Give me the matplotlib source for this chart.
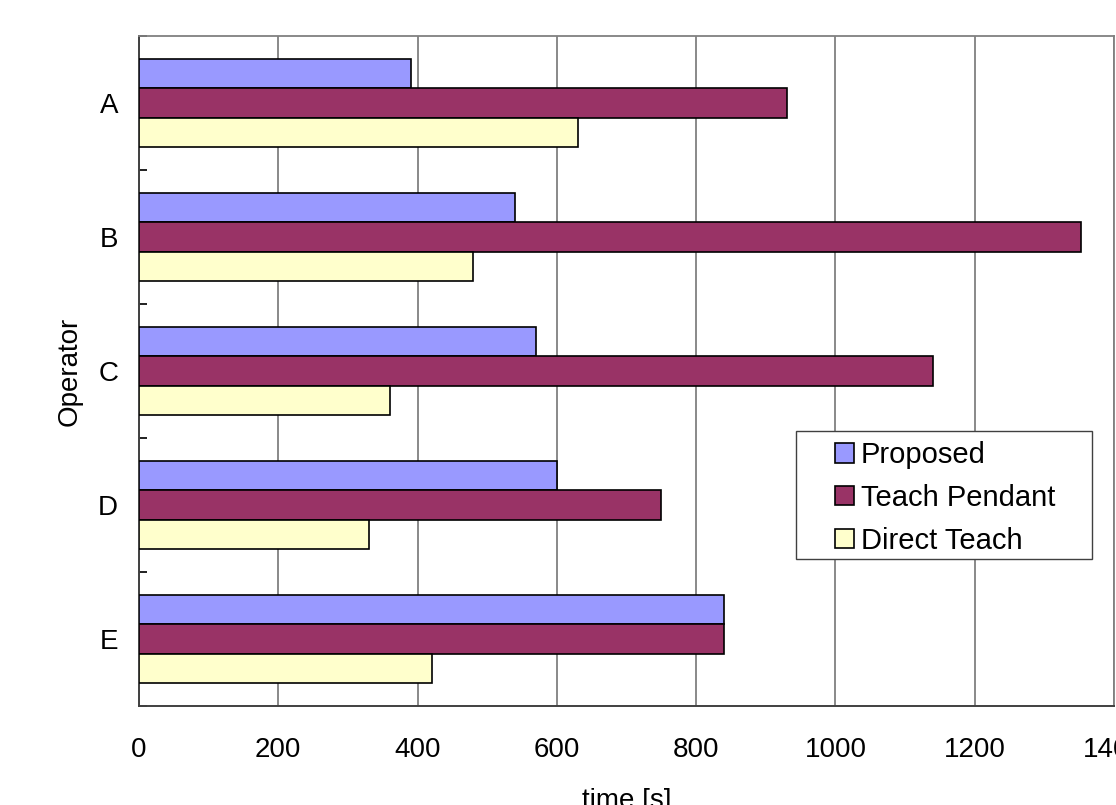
import numpy as np
import matplotlib
matplotlib.use("Agg")
import matplotlib.pyplot as plt
from matplotlib.patches import Rectangle

plt.rcParams['font.family'] = ['Liberation Sans', 'DejaVu Sans']

operators = ["A", "B", "C", "D", "E"]
proposed = [390, 540, 570, 600, 840]
teach_pendant = [930, 1352, 1140, 750, 840]
direct_teach = [630, 480, 360, 330, 420]
series_names = ["Proposed", "Teach Pendant", "Direct Teach"]
x_ticks = [0, 200, 400, 600, 800, 1000, 1200, 1400]

colors = ["#9999FF", "#993366", "#FFFFCC"]

W, H = 1116, 805
fig = plt.figure(figsize=(W / 100, H / 100), dpi=100)
# plot area in pixels: left 139, right 1114, top 36, bottom 706
ax = fig.add_axes([139 / W, 1 - 706 / H, (1114 - 139) / W, (706 - 36) / H])

y = np.arange(len(operators))
h = 0.22
for i, (vals, name, c) in enumerate(zip([proposed, teach_pendant, direct_teach], series_names, colors)):
    ax.barh(y + (i - 1) * h, vals, height=h, color=c, edgecolor="black",
            linewidth=1.2, label=name, zorder=3)

ax.set_xlim(0, 1400)
ax.set_ylim(len(operators) - 0.5, -0.5)
ax.set_xticks(x_ticks)
ax.set_yticks(y)
ax.set_yticklabels(operators)
ax.set_yticks(np.arange(len(operators) + 1) - 0.5, minor=True)

ax.tick_params(axis="x", length=0, pad=22, labelsize=20)
ax.tick_params(axis="y", which="major", length=0, pad=15, labelsize=20)
ax.tick_params(axis="y", which="minor", direction="in", length=6, width=1.4, color="#202020")

ax.grid(axis="x", color="#808080", linewidth=1.3, zorder=0)
ax.set_axisbelow(True)

for s in ["left", "bottom"]:
    ax.spines[s].set_color("#404040")
    ax.spines[s].set_linewidth(1.4)
for s in ["top", "right"]:
    ax.spines[s].set_color("#808080")
    ax.spines[s].set_linewidth(1.3)

ax.set_xlabel("time [s]", fontsize=20, labelpad=18)
ax.set_ylabel("Operator", fontsize=20, labelpad=11)

leg = fig.legend(loc="center left", bbox_to_anchor=(835 / W, 1 - 498 / H),
                 frameon=False, fontsize=21, borderpad=0, borderaxespad=0,
                 handlelength=0.65, handleheight=0.65, handletextpad=0.24,
                 labelspacing=0.5)
fig.add_artist(Rectangle((796 / W, 1 - 559 / H), (1092 - 796) / W, (559 - 431) / H,
                         transform=fig.transFigure, facecolor="white",
                         edgecolor="#404040", linewidth=1.0, zorder=4))
leg.set_zorder(5)

fig.savefig("out.png", dpi=100)
